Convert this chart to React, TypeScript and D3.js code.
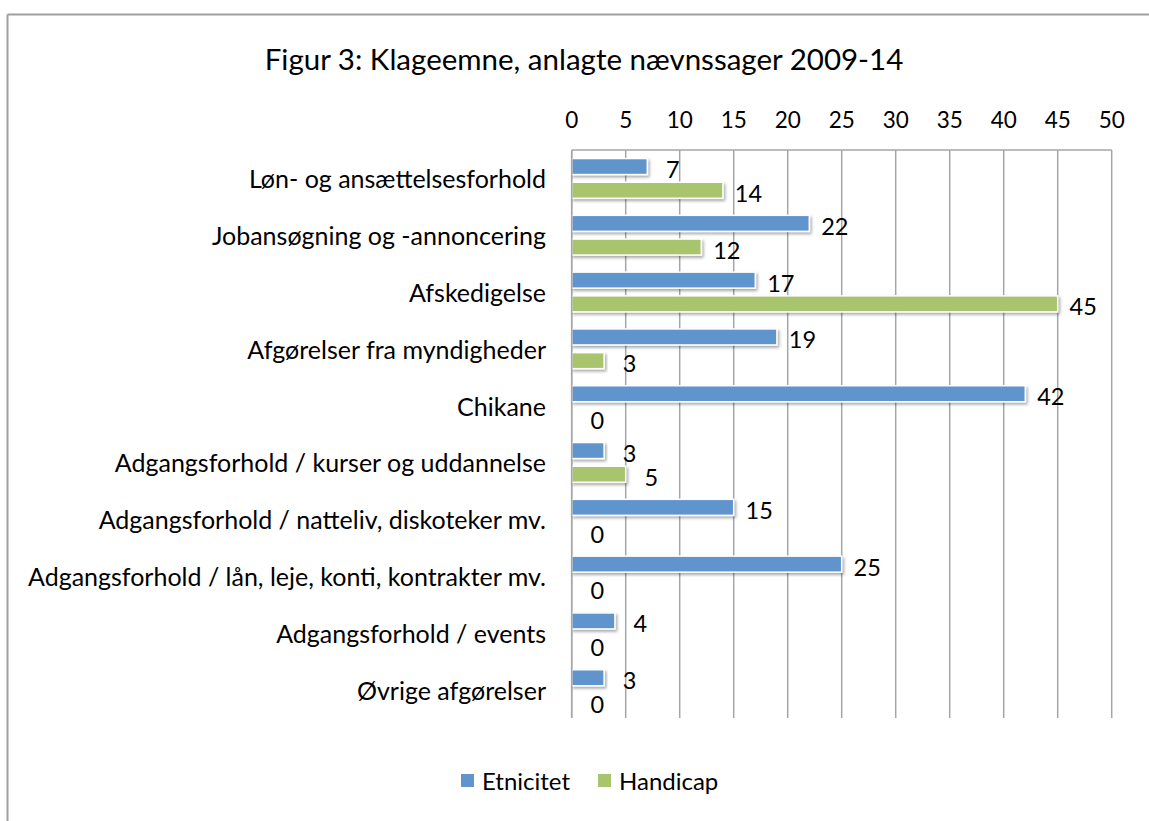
import React from "react";
import * as d3 from "d3";

const categories = [
  "Løn- og ansættelsesforhold",
  "Jobansøgning og -annoncering",
  "Afskedigelse",
  "Afgørelser fra myndigheder",
  "Chikane",
  "Adgangsforhold / kurser og uddannelse",
  "Adgangsforhold / natteliv, diskoteker mv.",
  "Adgangsforhold / lån, leje, konti, kontrakter mv.",
  "Adgangsforhold / events",
  "Øvrige afgørelser",
];
const etnicitet = [7, 22, 17, 19, 42, 3, 15, 25, 4, 3];
const handicap = [14, 12, 45, 3, 0, 5, 0, 0, 0, 0];
const seriesNames = ["Etnicitet", "Handicap"];
const xTicks = [0, 5, 10, 15, 20, 25, 30, 35, 40, 45, 50];
const title = "Figur 3: Klageemne, anlagte nævnssager 2009-14";

const COLORS = ["#6094CC", "#A8C46C"];
const FONT = "Lato, 'Open Sans', sans-serif";

export default function App() {
  const W = 1149, H = 821;
  const left = 571.7, right = 1111.7, top = 150, bottom = 718;
  const x = d3.scaleLinear().domain([0, 50]).range([left, right]);
  const y = d3.scaleBand<string>().domain(categories).range([top, bottom]).padding(0);
  const inner = d3.scaleBand<string>().domain(seriesNames).range([0, y.bandwidth()]).paddingInner(0.325).paddingOuter(0.36);
  const values = [etnicitet, handicap];

  return (
    <svg width={W} height={H} style={{ position: "absolute", left: 0, top: 0, background: "#fff" }}>
      <defs>
        <filter id="sh" x="-5%" y="-30%" width="115%" height="190%">
          <feDropShadow dx="1.5" dy="2" stdDeviation="1.5" floodColor="#000" floodOpacity="0.35" />
        </filter>
      </defs>
      <rect x={0} y={0} width={W} height={H} fill="#fff" />
      <line x1={7.5} y1={14.5} x2={W} y2={14.5} stroke="#a0a0a0" strokeWidth={2} />
      <line x1={7.5} y1={14.5} x2={7.5} y2={H} stroke="#a0a0a0" strokeWidth={2} />
      <text x={584} y={70} textAnchor="middle" fontFamily={FONT} fontSize={29.5} fill="#000">{title}</text>
      {xTicks.map((t) => (
        <g key={t}>
          <line x1={x(t)} x2={x(t)} y1={top} y2={bottom} stroke="#a6a6a6" strokeWidth={1.5} />
          <text x={x(t)} y={127.5} textAnchor="middle" fontFamily={FONT} fontSize={22.5} fill="#000">{t}</text>
        </g>
      ))}
      <line x1={left} x2={right} y1={top} y2={top} stroke="#a6a6a6" strokeWidth={1.5} />
      {categories.map((c, i) => (
        <text key={c} x={546} y={(y(c) as number) + y.bandwidth() / 2 + 10} textAnchor="end" fontFamily={FONT} fontSize={25} fill="#000">{c}</text>
      ))}
      {seriesNames.map((s, si) =>
        categories.map((c, i) => {
          const v = values[si][i];
          const y0 = (y(c) as number) + (inner(s) as number);
          const bh = inner.bandwidth();
          return (
            <g key={s + c}>
              {v > 0 && (
                <rect x={x(0)} y={y0} width={x(v) - x(0)} height={bh} fill={COLORS[si]} stroke="#fff" strokeWidth={1.5} filter="url(#sh)" />
              )}
              <text x={x(v) + 25.5} y={y0 + bh / 2 + 11.5} textAnchor="middle" fontFamily={FONT} fontSize={23.5} fill="#000">{v}</text>
            </g>
          );
        })
      )}
      <line x1={left} x2={left} y1={top} y2={bottom} stroke="#a6a6a6" strokeWidth={1.5} />
      {seriesNames.map((s, si) => {
        const lx = [461, 598][si];
        return (
          <g key={s}>
            <rect x={lx} y={774} width={13} height={13} fill={COLORS[si]} />
            <text x={lx + 21} y={790} fontFamily={FONT} fontSize={24} fill="#000">{s}</text>
          </g>
        );
      })}
    </svg>
  );
}
